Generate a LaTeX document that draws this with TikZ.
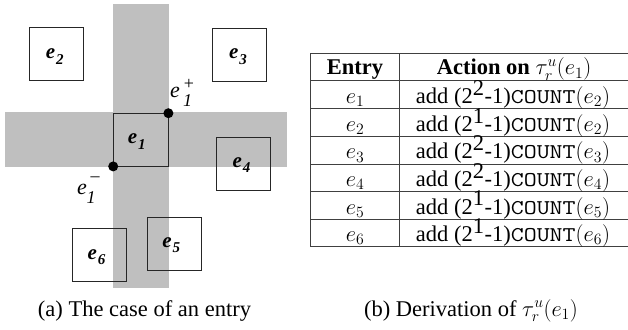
\RequirePackage{fix-cm}
\documentclass[tikz,border=0pt]{standalone}
\usepackage{fontspec}
\setmainfont{Liberation Serif}
\newcommand{\cnt}{\scalebox{1.2}[1]{\fontsize{21}{21}\selectfont\ttfamily COUNT}}
\begin{document}
\begin{tikzpicture}[x=1pt,y=-1pt,
  band/.style={fill=black!25,draw=none},
  ebox/.style={draw=black!85,line width=0.9pt,minimum width=54.4pt,minimum height=53pt,inner sep=0pt},
  elab/.style={inner sep=0pt,font=\fontsize{21}{21}\selectfont},
  cdot/.style={circle,fill=black,minimum size=10pt,inner sep=0pt},
  corner/.style={inner sep=0pt,font=\fontsize{22}{22}\selectfont},
  cornersm/.style={inner sep=0pt,font=\fontsize{18}{18}\selectfont},
  tline/.style={draw=black!75,line width=0.9pt},
  tcell/.style={anchor=base,inner sep=0pt,font=\fontsize{22.5}{25}\selectfont},
  captext/.style={anchor=base,inner sep=0pt,font=\fontsize{22.5}{26}\selectfont}]
\useasboundingbox (0,0) rectangle (628,329);
% gray bands
\fill[band] (113.3,4) rectangle (169,287.7);
\fill[band] (5,112) rectangle (287.3,166.7);
% boxes
\node[ebox] (e2) at (56.3,53.8) {};
\node[ebox] (e3) at (239.5,54.7) {};
\node[ebox,minimum width=54.3pt,minimum height=52.3pt] (e1) at (140.8,139.8) {};
\node[ebox] (e4) at (243.5,164.3) {};
\node[ebox] (e5) at (174.3,244.2) {};
\node[ebox] (e6) at (99.5,255.2) {};
\newcommand{\elabel}[1]{\textbf{\textit{e}}\kern1pt\raisebox{-5.5pt}{\fontsize{15}{15}\selectfont\textbf{\textit{#1}}}}
\node[elab] (l2) at ([shift={(-1.5,3)}]e2.center) {\elabel{2}};
\node[elab] (l3) at ([shift={(-1.5,2)}]e3.center) {\elabel{3}};
\node[elab] (l1) at ([shift={(-4,2)}]e1.center) {\elabel{1}};
\node[elab] (l4) at ([shift={(-2,1)}]e4.center) {\elabel{4}};
\node[elab] (l5) at ([shift={(-3,1)}]e5.center) {\elabel{5}};
\node[elab] (l6) at ([shift={(-3,2)}]e6.center) {\elabel{6}};
% corner dots
\node[cdot] (dp) at (e1.north east) {};
\node[cdot] (dm) at (e1.south west) {};
\node[corner,anchor=base west] (lp) at (170,97) {\textit{e}};
\node[cornersm,anchor=base] (lpa) at (189,89) {+};
\node[cornersm,anchor=base] (lpb) at (187.5,106) {\textit{1}};
\node[corner,anchor=base west] (lm) at (77,194) {\textit{e}};
\node[cornersm,anchor=base] (lma) at (95,181) {--};
\node[cornersm,anchor=base] (lmb) at (91,203) {\textit{1}};
% table
\foreach \yy in {53.3,80.7,108.7,136.3,164,191.7,219.3,246.7}
  \draw[tline] (310.7,\yy) -- (629,\yy);
\draw[tline] (310.7,53.3) -- (310.7,246.7);
\draw[tline] (399,53.3) -- (399,246.7);
\draw[tline] (629,53.3) -- (629,246.7);
\node[tcell] (h1) at (355,74.8) {\textbf{Entry}};
\node[tcell] (h2) at (514,74.8) {\textbf{Action on} $\tau_r^u(e_1)$};
\node[tcell] (r1a) at (355,103.5) {$e_1$};
\node[tcell] (r1b) at (513,103.5) {add (2$^{\textrm{2}}$-1)\cnt$(e_2)$};
\node[tcell] (r2a) at (355,131.2) {$e_2$};
\node[tcell] (r2b) at (513,131.2) {add (2$^{\textrm{1}}$-1)\cnt$(e_2)$};
\node[tcell] (r3a) at (355,158.8) {$e_3$};
\node[tcell] (r3b) at (513,158.8) {add (2$^{\textrm{2}}$-1)\cnt$(e_3)$};
\node[tcell] (r4a) at (355,186.5) {$e_4$};
\node[tcell] (r4b) at (513,186.5) {add (2$^{\textrm{2}}$-1)\cnt$(e_4)$};
\node[tcell] (r5a) at (355,214.1) {$e_5$};
\node[tcell] (r5b) at (513,214.1) {add (2$^{\textrm{1}}$-1)\cnt$(e_5)$};
\node[tcell] (r6a) at (355,241.6) {$e_6$};
\node[tcell] (r6b) at (513,241.6) {add (2$^{\textrm{1}}$-1)\cnt$(e_6)$};
% captions
\node[captext] (ca) at (144.5,316) {(a) The case of an entry};
\node[captext] (cb) at (471,316) {(b) Derivation of $\tau_r^u(e_1)$};
\end{tikzpicture}
\end{document}
